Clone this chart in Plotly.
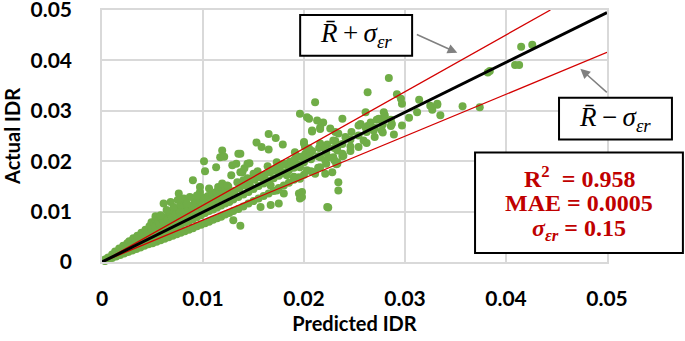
import plotly.graph_objects as go

# (predicted IDR, actual IDR) pairs
core_points = [
    (0.0003,0.0002),(0.0003,0.0003),(0.0004,0.0004),(0.0003,0.0005),
    (0.0006,0.0005),(0.0006,0.0006),(0.0007,0.0008),(0.0006,0.0009),
    (0.0010,0.0008),(0.0010,0.0010),(0.0011,0.0012),(0.0010,0.0015),
    (0.0014,0.0011),(0.0014,0.0014),(0.0015,0.0017),(0.0013,0.0021),
    (0.0018,0.0014),(0.0018,0.0018),(0.0019,0.0022),(0.0017,0.0027),
    (0.0022,0.0017),(0.0022,0.0021),(0.0023,0.0026),(0.0021,0.0032),
    (0.0026,0.0020),(0.0026,0.0025),(0.0027,0.0030),(0.0025,0.0037),(0.0027,0.0041),
    (0.0030,0.0023),(0.0030,0.0029),(0.0031,0.0034),(0.0029,0.0041),(0.0031,0.0047),
    (0.0034,0.0026),(0.0034,0.0033),(0.0035,0.0039),(0.0033,0.0046),(0.0035,0.0052),
    (0.0038,0.0029),(0.0038,0.0036),(0.0039,0.0043),(0.0037,0.0051),(0.0039,0.0058),
    (0.0042,0.0032),(0.0042,0.0040),(0.0043,0.0047),(0.0041,0.0056),(0.0043,0.0064),
    (0.0046,0.0035),(0.0046,0.0044),(0.0047,0.0052),(0.0045,0.0061),(0.0047,0.0071),(0.0049,0.0079),
    (0.0050,0.0037),(0.0050,0.0048),(0.0051,0.0056),(0.0049,0.0066),(0.0052,0.0076),(0.0053,0.0085),
    (0.0054,0.0040),(0.0054,0.0051),(0.0055,0.0060),(0.0053,0.0070),(0.0056,0.0081),(0.0057,0.0088),
    (0.0058,0.0043),(0.0058,0.0055),(0.0059,0.0065),(0.0057,0.0075),(0.0060,0.0085),
    (0.0062,0.0046),(0.0062,0.0059),(0.0063,0.0069),(0.0061,0.0080),(0.0064,0.0090),(0.0066,0.0098),
    (0.0066,0.0049),(0.0066,0.0062),(0.0067,0.0073),(0.0065,0.0084),(0.0068,0.0094),
    (0.0070,0.0052),(0.0070,0.0066),(0.0071,0.0078),(0.0069,0.0089),(0.0072,0.0100),
    (0.0074,0.0055),(0.0074,0.0070),(0.0075,0.0082),(0.0073,0.0094),(0.0076,0.0106),
    (0.0078,0.0058),(0.0078,0.0074),(0.0079,0.0087),(0.0077,0.0099),
    (0.0082,0.0061),(0.0082,0.0078),(0.0083,0.0091),(0.0081,0.0104),(0.0084,0.0112),
    (0.0086,0.0064),(0.0086,0.0081),(0.0087,0.0095),(0.0085,0.0108),
    (0.0090,0.0067),(0.0090,0.0085),(0.0091,0.0099),(0.0089,0.0112),(0.0092,0.0121),
    (0.0094,0.0071),(0.0094,0.0089),(0.0095,0.0104),(0.0093,0.0117),
    (0.0098,0.0074),(0.0098,0.0093),(0.0099,0.0108),(0.0097,0.0122),(0.0100,0.0128),
    (0.0102,0.0077),(0.0102,0.0097),(0.0103,0.0112),(0.0101,0.0126),
    (0.0106,0.0080),(0.0106,0.0101),(0.0107,0.0117),(0.0105,0.0131),
    (0.0110,0.0084),(0.0110,0.0104),(0.0111,0.0121),(0.0109,0.0135),
    (0.0114,0.0087),(0.0114,0.0108),(0.0115,0.0125),(0.0113,0.0139),
    (0.0118,0.0090),(0.0118,0.0112),(0.0119,0.0129),(0.0117,0.0142),
    (0.0122,0.0094),(0.0122,0.0116),(0.0123,0.0133),(0.0121,0.0146),
    (0.0126,0.0097),(0.0126,0.0119),(0.0127,0.0137),(0.0125,0.0150),
    (0.0130,0.0101),(0.0130,0.0124),(0.0131,0.0141),
    (0.0135,0.0105),(0.0135,0.0129),(0.0136,0.0146),(0.0134,0.0158),
    (0.0140,0.0110),(0.0140,0.0134),(0.0141,0.0152),
    (0.0145,0.0116),(0.0145,0.0139),(0.0146,0.0157),(0.0144,0.0166),
    (0.0150,0.0121),(0.0150,0.0145),(0.0151,0.0163),
    (0.0155,0.0126),(0.0155,0.0151),(0.0156,0.0168),(0.0154,0.0180),
    (0.0160,0.0131),(0.0160,0.0156),(0.0161,0.0173),
    (0.0165,0.0136),(0.0165,0.0161),(0.0166,0.0178),(0.0164,0.0190),
    (0.0170,0.0141),(0.0170,0.0166),(0.0171,0.0184),
    (0.0175,0.0147),(0.0175,0.0171),(0.0176,0.0188),
    (0.0180,0.0152),(0.0180,0.0177),(0.0181,0.0193),
    (0.0185,0.0157),(0.0185,0.0182),(0.0186,0.0199),
    (0.0190,0.0163),(0.0190,0.0187),(0.0191,0.0204),
    (0.0195,0.0168),(0.0195,0.0193),(0.0196,0.0209),
    (0.0200,0.0173),(0.0200,0.0198),(0.0201,0.0214),
    (0.0207,0.0180),(0.0207,0.0204),(0.0208,0.0220),
    (0.0214,0.0187),(0.0214,0.0210),(0.0215,0.0226),
    (0.0222,0.0195),(0.0222,0.0218),(0.0223,0.0233),
    (0.0230,0.0202),(0.0230,0.0226),(0.0231,0.0240),
    (0.0238,0.0210),(0.0238,0.0234),
    (0.0246,0.0220),(0.0246,0.0243),(0.0247,0.0258),
    (0.0254,0.0228),(0.0254,0.0251),
    (0.0262,0.0236),(0.0262,0.0258),(0.0263,0.0270),
    (0.0270,0.0248),(0.0270,0.0266),
    (0.0278,0.0257),(0.0278,0.0273),(0.0279,0.0285),
    (0.0286,0.0270),(0.0286,0.0282),
]

scatter_points = [
    (0.0415,0.0427),(0.0426,0.0431),(0.0409,0.0391),(0.0413,0.0391),
    (0.0382,0.0376),(0.0384,0.0379),(0.0332,0.0312),(0.0327,0.0302),
    (0.0335,0.0291),(0.0357,0.0309),(0.0374,0.0307),(0.0284,0.0365),
    (0.0263,0.0337),(0.0292,0.0333),(0.0296,0.0324),(0.0297,0.0314),
    (0.0314,0.0322),(0.0325,0.0310),(0.0332,0.0314),(0.0312,0.0297),
    (0.0304,0.0286),(0.0297,0.0271),(0.0289,0.0253),(0.0279,0.0297),
    (0.0272,0.0282),(0.0266,0.0277),(0.0261,0.0297),(0.0256,0.0274),
    (0.0259,0.0241),(0.0269,0.0261),(0.0277,0.0261),(0.0238,0.0284),
    (0.0231,0.0258),(0.0241,0.0248),(0.0246,0.0229),(0.0233,0.0221),
    (0.0239,0.0211),(0.0232,0.0194),(0.0234,0.0158),(0.0224,0.0108),
    (0.0198,0.0129),(0.0198,0.0139),(0.0195,0.0136),(0.0234,0.0142),
    (0.0211,0.0317),(0.0203,0.0287),(0.0213,0.0281),(0.0196,0.0294),
    (0.0216,0.0267),(0.0208,0.0261),(0.0205,0.0284),(0.0274,0.0284),
    (0.0280,0.0291),(0.0287,0.0274),(0.0254,0.0271),(0.0261,0.0267),
    (0.0233,0.0228),(0.0238,0.0215),(0.0233,0.0195),(0.0228,0.0178),
    (0.0200,0.0235),(0.0206,0.0215),(0.0200,0.0208),(0.0216,0.0208),
    (0.0221,0.0202),(0.0196,0.0188),(0.0211,0.0175),(0.0229,0.0208),
    (0.0219,0.0277),(0.0226,0.0265),(0.0165,0.0254),(0.0172,0.0246),
    (0.0179,0.0233),(0.0153,0.0237),(0.0158,0.0228),(0.0165,0.0223),
    (0.0137,0.0215),(0.0144,0.0195),(0.0191,0.0218),(0.0200,0.0238),
    (0.0201,0.0228),(0.0205,0.0225),(0.0216,0.0235),(0.0221,0.0225),
    (0.0229,0.0241),(0.0224,0.0208),(0.0233,0.0198),(0.0190,0.0202),
    (0.0173,0.0198),(0.0180,0.0195),(0.0186,0.0188),(0.0170,0.0182),
    (0.0177,0.0175),(0.0183,0.0172),(0.0190,0.0169),(0.0196,0.0165),
    (0.0203,0.0182),(0.0210,0.0178),(0.0216,0.0188),(0.0221,0.0175),
    (0.0150,0.0175),(0.0157,0.0169),(0.0162,0.0159),(0.0167,0.0152),
    (0.0173,0.0142),(0.0180,0.0136),(0.0137,0.0178),(0.0140,0.0162),
    (0.0147,0.0149),(0.0101,0.0200),(0.0102,0.0180),(0.0113,0.0188),
    (0.0119,0.0221),(0.0121,0.0209),(0.0117,0.0208),(0.0135,0.0215),
    (0.0129,0.0192),(0.0133,0.0195),(0.0128,0.0172),(0.0139,0.0178),
    (0.0090,0.0162),(0.0097,0.0149),(0.0097,0.0139),(0.0106,0.0146),
    (0.0115,0.0149),(0.0119,0.0156),(0.0124,0.0152),(0.0076,0.0136),
    (0.0068,0.0119),(0.0081,0.0126),(0.0087,0.0129),(0.0094,0.0132),
    (0.0061,0.0116),(0.0053,0.0091),(0.0058,0.0093),(0.0064,0.0103),
    (0.0071,0.0109),(0.0078,0.0113),(0.0084,0.0116),(0.0075,0.0123),
    (0.0130,0.0083),(0.0137,0.0072),(0.0157,0.0109),(0.0167,0.0113),
    (0.0175,0.0116),(0.0196,0.0126),(0.0223,0.0109),(0.0208,0.0259),
    (0.0216,0.0264),(0.0234,0.0255),(0.0141,0.0186),(0.0146,0.0196),
]

line_x = [0.0, 0.05]
mean_line_y = [0.0, 0.0495]
upper_line_x = [0.0, 0.0444]
upper_line_y = [0.0, 0.05]
lower_line_x = [0.0, 0.05]
lower_line_y = [0.0, 0.0416]

x_ticks = [0, 0.01, 0.02, 0.03, 0.04, 0.05]
tick_text = ["0", "0.01", "0.02", "0.03", "0.04", "0.05"]

stats_lines = ["<b>R<sup>2</sup>  = 0.958</b>", "<b>MAE = 0.0005</b>",
               "<b><i>σ<sub>εr</sub></i> = 0.15</b>"]

all_points = core_points + scatter_points
pred = [p[0] for p in all_points]
actual = [p[1] for p in all_points]

fig = go.Figure()
fig.add_trace(go.Scatter(x=pred, y=actual, mode="markers",
                         marker=dict(size=8, color="#70AD47"),
                         cliponaxis=False, showlegend=False))
fig.add_trace(go.Scatter(x=upper_line_x, y=upper_line_y, mode="lines",
                         line=dict(color="#D40000", width=1.3), showlegend=False))
fig.add_trace(go.Scatter(x=lower_line_x, y=lower_line_y, mode="lines",
                         line=dict(color="#D40000", width=1.3), showlegend=False))
fig.add_trace(go.Scatter(x=line_x, y=mean_line_y, mode="lines",
                         line=dict(color="black", width=3), showlegend=False))

axis_common = dict(
    range=[0, 0.05], tickvals=x_ticks, ticktext=tick_text,
    showgrid=True, gridcolor="#D9D9D9", gridwidth=1.5,
    zeroline=False, showline=True, mirror=True, linecolor="#D9D9D9", linewidth=1.5,
    tickfont=dict(family="Lato", size=21, color="black", weight="bold"),
    ticks="", automargin=False, ticklabeloverflow="allow",
)

fig.update_layout(
    width=685, height=341,
    margin=dict(l=102, r=78, t=10, b=79),
    plot_bgcolor="white", paper_bgcolor="white",
    xaxis=dict(**axis_common, ticklabelstandoff=17,
               title=dict(text="Predicted IDR", standoff=8,
                          font=dict(family="Lato", size=20, color="black", weight="bold"))),
    yaxis=dict(**axis_common, ticklabelstandoff=24,
               title=dict(text="Actual IDR", standoff=7,
                          font=dict(family="Lato", size=20, color="black", weight="bold"))),
)

box_line = dict(color="black", width=2)
for x0, x1, y0, y1 in [(0.3924, 0.6141, 0.8182, 0.9802),
                       (0.9050, 1.1286, 0.4862, 0.6522),
                       (0.7387, 1.1503, 0.0356, 0.4348)]:
    fig.add_shape(type="rect", xref="paper", yref="paper", x0=x0, x1=x1, y0=y0, y1=y1,
                  line=box_line, fillcolor="white", layer="above")

serif = "Liberation Serif"
fig.add_annotation(xref="paper", yref="paper", x=0.5033, y=0.899,
                   xanchor="center", yanchor="middle",
                   text="<i>R\u0304</i>\u2009+\u2009<i>σ<sub>εr</sub></i>", showarrow=False,
                   font=dict(family=serif, size=27, color="black"))
fig.add_annotation(xref="paper", yref="paper", x=1.0168, y=0.569,
                   xanchor="center", yanchor="middle",
                   text="<i>R\u0304</i>\u2009−\u2009<i>σ<sub>εr</sub></i>", showarrow=False,
                   font=dict(family=serif, size=27, color="black"))
for txt, yy in zip(stats_lines, [0.336, 0.2332, 0.1265]):
    fig.add_annotation(xref="paper", yref="paper", x=0.9446, y=yy,
                       xanchor="center", yanchor="middle",
                       text=txt, showarrow=False,
                       font=dict(family=serif, size=24, color="#C00000"))
fig.add_annotation(x=0.03518, y=0.0415, ax=-42, ay=-19, text="",
                   showarrow=True, arrowhead=2, arrowsize=1.3, arrowwidth=1.5,
                   arrowcolor="#808080")
fig.add_annotation(x=0.04736, y=0.03834, ax=28, ay=25, text="",
                   showarrow=True, arrowhead=2, arrowsize=1.3, arrowwidth=1.5,
                   arrowcolor="#808080")

fig.write_html("out.html", config={"displayModeBar": False},
               post_script="document.body.style.margin='0px';")
